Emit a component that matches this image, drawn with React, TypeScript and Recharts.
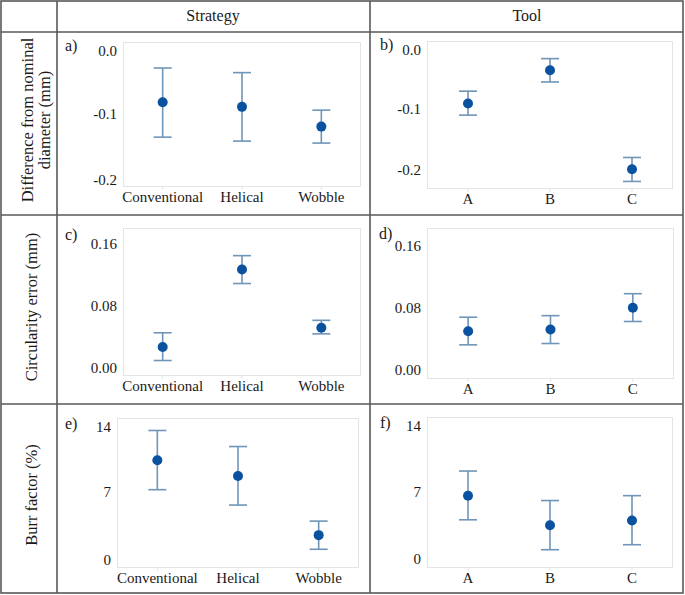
import React from 'react';
import { LineChart, Line, XAxis, YAxis, ErrorBar } from 'recharts';

// ---- data ----
const strategyCategories = ['Conventional', 'Helical', 'Wobble'];
const toolCategories = ['A', 'B', 'C'];

const diffStrategyMean = [-0.083, -0.090, -0.120];
const diffStrategyLow = [-0.136, -0.142, -0.145];
const diffStrategyHigh = [-0.031, -0.038, -0.095];

const diffToolMean = [-0.092, -0.038, -0.199];
const diffToolLow = [-0.111, -0.057, -0.219];
const diffToolHigh = [-0.072, -0.019, -0.180];

const circStrategyMean = [0.027, 0.127, 0.052];
const circStrategyLow = [0.0096, 0.109, 0.044];
const circStrategyHigh = [0.0454, 0.145, 0.0615];

const circToolMean = [0.0495, 0.0516, 0.0797];
const circToolLow = [0.032, 0.0337, 0.062];
const circToolHigh = [0.0675, 0.0695, 0.0977];

const burrStrategyMean = [10.3, 8.67, 2.51];
const burrStrategyLow = [7.24, 5.64, 1.04];
const burrStrategyHigh = [13.4, 11.73, 3.97];

const burrToolMean = [6.58, 3.5, 3.99];
const burrToolLow = [4.06, 0.94, 1.46];
const burrToolHigh = [9.15, 6.07, 6.58];

const diffTicks = [-0.2, -0.1, 0];
const circTicks = [0, 0.08, 0.16];
const burrTicks = [0, 7, 14];

const columnHeaders = ['Strategy', 'Tool'];
const panelLetters = ['a)', 'b)', 'c)', 'd)', 'e)', 'f)'];

// ---- styling ----
const FONT = '"Liberation Serif", "Times New Roman", serif';
const DOT = '#0a52a0';
const BAR = '#6f95b8';
const TEXT = '#1a1a1a';
const GRID = '#595959';
const FRAME = '#e4e4e4';

const YW = 50;
const XH = 30;

type Panel = {
  cats: string[];
  mean: number[];
  low: number[];
  high: number[];
  domain: [number, number];
  ticks: number[];
  digits: number;
  rect: [number, number, number, number]; // plot left, top, right, bottom
  letter: string;
  letterPos: [number, number];
};

const panels: Panel[] = [
  { cats: strategyCategories, mean: diffStrategyMean, low: diffStrategyLow, high: diffStrategyHigh, domain: [-0.2117, 0.0085], ticks: diffTicks, digits: 1, rect: [123, 42, 361, 187], letter: panelLetters[0], letterPos: [65, 51] },
  { cats: toolCategories, mean: diffToolMean, low: diffToolLow, high: diffToolHigh, domain: [-0.2313, 0.0097], ticks: diffTicks, digits: 1, rect: [427, 41, 673, 189], letter: panelLetters[1], letterPos: [380, 49.5] },
  { cats: strategyCategories, mean: circStrategyMean, low: circStrategyLow, high: circStrategyHigh, domain: [-0.0104, 0.1807], ticks: circTicks, digits: 2, rect: [123, 228, 361, 376], letter: panelLetters[2], letterPos: [65, 239.5] },
  { cats: toolCategories, mean: circToolMean, low: circToolLow, high: circToolHigh, domain: [-0.0119, 0.1821], ticks: circTicks, digits: 2, rect: [427, 228, 674, 379], letter: panelLetters[3], letterPos: [379, 238.5] },
  { cats: strategyCategories, mean: burrStrategyMean, low: burrStrategyLow, high: burrStrategyHigh, domain: [-0.91, 14.7], ticks: burrTicks, digits: 0, rect: [117, 418, 359, 568], letter: panelLetters[4], letterPos: [65, 428.5] },
  { cats: toolCategories, mean: burrToolMean, low: burrToolLow, high: burrToolHigh, domain: [-0.97, 14.79], ticks: burrTicks, digits: 0, rect: [427, 417, 673, 568], letter: panelLetters[5], letterPos: [380, 427.5] },
];

function PanelChart({ p }: { p: Panel }) {
  const [pl, pt, pr, pb] = p.rect;
  const left = pl - YW;
  const width = pr - left;
  const height = pb - pt + XH;
  const data = p.cats.map((name, i) => ({
    name,
    x: i,
    mean: p.mean[i],
    err: [p.mean[i] - p.low[i], p.high[i] - p.mean[i]],
  }));
  return (
    <div style={{ position: 'absolute', left, top: pt, width, height }}>
      <LineChart width={width} height={height} data={data} margin={{ top: 0, right: 0, bottom: 0, left: 0 }}>
        <XAxis
          type="number"
          dataKey="x"
          domain={[-0.5, p.cats.length - 0.5]}
          ticks={p.cats.map((_, i) => i)}
          tickFormatter={(v: number) => p.cats[v] ?? ''}
          allowDataOverflow
          height={XH}
          axisLine={false}
          tickLine={{ stroke: FRAME }}
          tickSize={3}
          tickMargin={1}
          tick={{ fill: TEXT, fontSize: 15, fontFamily: FONT }}
          interval={0}
        />
        <YAxis
          type="number"
          domain={p.domain}
          ticks={p.ticks}
          allowDataOverflow
          width={YW}
          axisLine={false}
          tickLine={false}
          tickSize={4}
          tickMargin={2}
          tickFormatter={(v: number) => v.toFixed(p.digits)}
          tick={{ fill: TEXT, fontSize: 15, fontFamily: FONT }}
        />
        <Line
          dataKey="mean"
          stroke="none"
          isAnimationActive={false}
          dot={{ r: 5, fill: DOT, stroke: DOT, strokeWidth: 0 }}
          activeDot={false}
        >
          <ErrorBar dataKey="err" direction="y" width={9} stroke={BAR} strokeWidth={1.6} />
        </Line>
      </LineChart>
    </div>
  );
}

export default function App() {
  return (
    <div style={{ position: 'absolute', left: 0, top: 0, width: 685, height: 595, background: '#fff', fontFamily: FONT }}>
      <svg width={685} height={595} style={{ position: 'absolute', left: 0, top: 0 }}>
        {/* table grid */}
        <rect x={1} y={1} width={682} height={592} fill="none" stroke={GRID} strokeWidth={1.6} />
        <line x1={57} y1={1} x2={57} y2={593} stroke={GRID} strokeWidth={1.6} />
        <line x1={370} y1={1} x2={370} y2={593} stroke={GRID} strokeWidth={1.6} />
        <line x1={1} y1={32} x2={683} y2={32} stroke={GRID} strokeWidth={1.6} />
        <line x1={1} y1={215} x2={683} y2={215} stroke={GRID} strokeWidth={1.6} />
        <line x1={1} y1={404} x2={683} y2={404} stroke={GRID} strokeWidth={1.6} />
        {/* headers */}
        <text x={213} y={20.5} textAnchor="middle" fontSize={16} fill={TEXT} fontFamily={FONT}>{columnHeaders[0]}</text>
        <text x={527} y={20.5} textAnchor="middle" fontSize={16} fill={TEXT} fontFamily={FONT}>{columnHeaders[1]}</text>
        {/* row labels */}
        <text x={27.5} y={120} transform="rotate(-90 27.5 120)" textAnchor="middle" dominantBaseline="central" fontSize={16.5} fill={TEXT} fontFamily={FONT}>Difference from nominal</text>
        <text x={44} y={120} transform="rotate(-90 44 120)" textAnchor="middle" dominantBaseline="central" fontSize={16.5} fill={TEXT} fontFamily={FONT}>diameter (mm)</text>
        <text x={31.5} y={307} transform="rotate(-90 31.5 307)" textAnchor="middle" dominantBaseline="central" fontSize={16.5} fill={TEXT} fontFamily={FONT}>Circularity error (mm)</text>
        <text x={31.5} y={495} transform="rotate(-90 31.5 495)" textAnchor="middle" dominantBaseline="central" fontSize={16.5} fill={TEXT} fontFamily={FONT}>Burr factor (%)</text>
        {/* panel letters and plot frames */}
        {panels.map((p, i) => (
          <g key={i}>
            <text x={p.letterPos[0]} y={p.letterPos[1]} fontSize={16} fill={TEXT} fontFamily={FONT}>{p.letter}</text>
            <rect x={p.rect[0] + 0.5} y={p.rect[1] + 0.5} width={p.rect[2] - p.rect[0] - 1} height={p.rect[3] - p.rect[1] - 1} fill="none" stroke={FRAME} strokeWidth={1} />
          </g>
        ))}
      </svg>
      {panels.map((p, i) => (
        <PanelChart key={i} p={p} />
      ))}
    </div>
  );
}
